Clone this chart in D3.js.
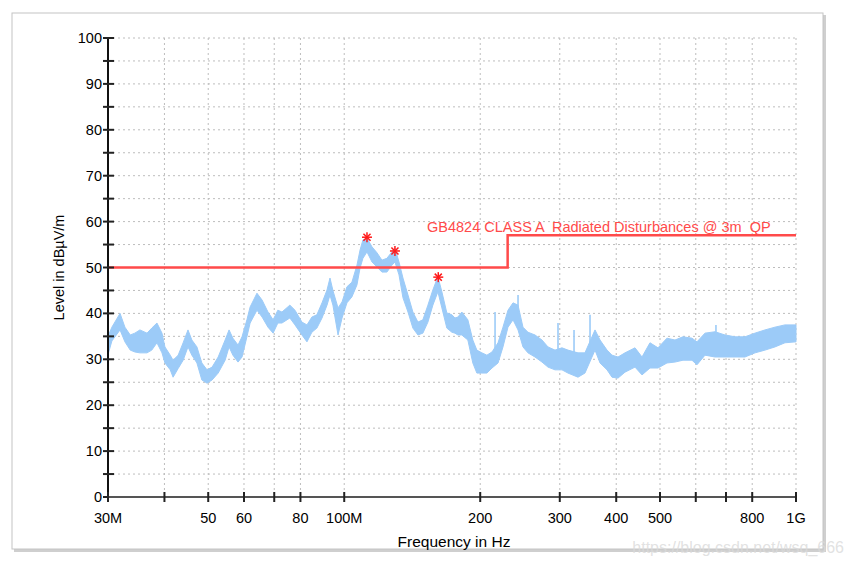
<!DOCTYPE html>
<html><head><meta charset="utf-8">
<script src="https://cdn.jsdelivr.net/npm/d3@7"></script>
<style>body{margin:0;background:#fff;} text{font-family:"Liberation Sans",Arial,sans-serif;}</style>
</head><body>
<svg id="c" width="852" height="564"></svg>
<script>
// ---- data ----
const freqMHz = [30.0,30.6,31.9,32.7,33.6,34.4,35.3,36.6,37.5,38.5,39.5,40.1,41.2,41.8,42.9,44.0,45.1,46.0,47.2,48.4,49.7,51.0,52.6,54.5,55.6,56.7,58.2,59.4,60.9,61.9,64.1,65.8,67.8,69.6,71.3,72.8,75.8,77.8,80.6,82.7,84.8,87.0,89.3,91.6,93.0,94.4,96.9,98.9,101.4,104.0,106.7,108.4,110.0,112.3,115.2,118.2,121.2,124.3,127.5,129.5,132.2,134.9,138.4,141.9,145.6,149.3,153.2,157.1,161.2,164.5,168.7,173.1,175.8,178.5,182.1,187.8,192.6,196.6,201.7,206.9,212.4,219.0,224.6,230.4,236.4,242.5,248.7,255.1,264.4,274.0,282.5,292.8,303.4,312.8,329.2,341.1,359.0,368.3,381.7,391.5,403.7,418.3,440.2,456.2,475.1,494.9,518.1,539.7,562.1,588.5,603.7,628.8,661.7,696.3,732.7,771.1,811.4,853.8,898.4,945.4,1000];
const levelHigh = [35.0,37.0,40.0,37.0,35.3,35.7,36.4,35.7,36.8,37.9,35.7,32.7,30.9,29.8,30.9,33.6,36.4,34.2,32.7,29.2,27.7,28.3,30.5,34.2,36.4,34.6,33.1,34.9,38.6,41.4,44.4,42.9,40.3,38.6,40.7,40.3,41.8,40.7,38.1,37.5,39.2,39.7,42.3,45.1,47.7,45.0,41.2,42.5,45.8,46.8,50.5,53.8,56.0,56.4,54.5,53.2,51.6,52.0,53.4,54.2,51.2,47.7,44.0,40.3,38.1,38.6,41.8,45.1,48.0,44.7,40.1,39.7,39.0,39.2,40.3,38.6,34.2,32.0,31.4,30.9,31.6,33.6,37.0,40.7,42.3,41.8,37.0,35.9,35.3,34.2,32.7,32.0,32.5,32.0,31.4,31.4,36.4,34.2,32.0,30.9,30.5,31.4,32.5,30.5,33.6,32.5,34.6,34.2,34.9,34.6,33.8,35.7,36.0,35.3,34.9,34.9,35.7,36.4,37.0,37.5,37.5];
const levelLow = [31.0,34.0,36.4,33.8,32.0,31.6,31.4,31.4,32.0,33.6,31.4,29.2,27.7,26.1,28.0,29.8,32.7,30.9,29.2,25.5,24.8,25.5,27.0,29.8,32.7,30.9,29.4,30.5,34.9,37.9,40.7,39.2,37.0,35.7,37.9,37.9,39.0,37.5,35.3,33.8,35.9,36.8,39.0,41.8,44.0,41.8,35.3,39.0,42.3,43.6,46.2,49.9,52.0,53.4,51.2,50.1,49.0,49.0,50.5,51.2,48.4,43.4,40.3,36.8,35.3,35.7,38.1,41.8,44.7,41.2,36.8,35.9,35.7,35.3,35.3,34.2,29.2,27.0,27.0,27.0,28.1,29.2,32.7,37.0,38.6,36.4,32.7,31.4,30.5,29.4,28.3,27.7,27.7,27.0,26.1,27.0,32.0,29.2,27.7,26.1,25.9,27.2,28.3,26.6,28.1,28.1,29.2,29.4,29.8,29.8,28.8,30.9,30.5,30.5,30.5,30.5,31.4,32.0,32.7,33.6,33.8];
// narrow spikes: frequency, top level, base level
const spikeFreq = [215.7,242.5,297.3,322.6,350.0,665.0];
const spikeTop  = [40.3,44.0,37.9,36.4,39.7,37.5];
const spikeBase = [31.0,40.0,31.5,31.5,32.0,34.0];
// limit line
const limitFreq  = [30,230,230,1000];
const limitLevel = [50,50,57,57];
const limitLabel = "GB4824 CLASS A  Radiated Disturbances @ 3m  QP";
// peak markers
const markerFreq  = [112.3,129.5,161.5];
const markerLevel = [56.6,53.6,47.9];
// ticks
const xTickVals = [30,40,50,60,70,80,100,200,300,400,500,600,700,800,1000];
const xTickText = ["30M","","50","60","","80","100M","200","300","400","500","","","800","1G"];
const yTickVals = [0,5,10,15,20,25,30,35,40,45,50,55,60,65,70,75,80,85,90,95,100];
const yLabelVals = [0,10,20,30,40,50,60,70,80,90,100];

// ---- chart ----
const svg = d3.select("#c");
const L=108, R=796, T=38, B=497;
const x = d3.scaleLog().domain([30,1000]).range([L,R]);
const y = d3.scaleLinear().domain([0,100]).range([B,T]);

// outer frame with shadow
svg.append("rect").attr("x",14).attr("y",15).attr("width",812).attr("height",537).attr("fill","#cfcfcf");
svg.append("rect").attr("x",12).attr("y",13).attr("width",811).attr("height",536).attr("fill","#fff").attr("stroke","#c4c4c4").attr("stroke-width",1);

// grid
const g = svg.append("g");
g.selectAll(".hg").data(yTickVals.filter(v=>v>0)).join("line")
  .attr("x1",L).attr("x2",R).attr("y1",d=>y(d)).attr("y2",d=>y(d))
  .attr("stroke","#bdbdbd").attr("stroke-width",1).attr("stroke-dasharray","2,3");
g.selectAll(".vg").data(xTickVals.filter(v=>v>30)).join("line")
  .attr("x1",d=>x(d)).attr("x2",d=>x(d)).attr("y1",T).attr("y2",B)
  .attr("stroke","#bdbdbd").attr("stroke-width",1).attr("stroke-dasharray","2,3");

// trace band
const data = freqMHz.map((f,i)=>({f,hi:levelHigh[i],lo:levelLow[i]}));
const area = d3.area().x(d=>x(d.f)).y0(d=>y(d.lo)).y1(d=>y(d.hi));
svg.append("path").datum(data).attr("d",area).attr("fill","#9ccbf8").attr("stroke","#9ccbf8").attr("stroke-width",1);
svg.selectAll(".sp").data(spikeFreq).join("line")
  .attr("x1",d=>x(d)).attr("x2",d=>x(d))
  .attr("y1",(d,i)=>y(spikeTop[i])).attr("y2",(d,i)=>y(spikeBase[i]))
  .attr("stroke","#9ccbf8").attr("stroke-width",1.6);

// limit line
const lim = limitFreq.map((f,i)=>[f,limitLevel[i]]);
svg.append("path").datum(lim).attr("d",d3.line().x(d=>x(d[0])).y(d=>y(d[1])))
  .attr("fill","none").attr("stroke","#ff4a4a").attr("stroke-width",2.5);
svg.append("text").attr("x",x(152.5)).attr("y",y(57.8)).attr("fill","#ff4a4a")
  .attr("font-size",14.5).style("white-space","pre").attr("xml:space","preserve").text(limitLabel);

// markers
const mk = svg.append("g");
markerFreq.forEach((f,i)=>{
  const cx=x(f), cy=y(markerLevel[i]);
  [0,45,90,135].forEach(a=>{
    const r=a*Math.PI/180, s=5;
    mk.append("line").attr("x1",cx-s*Math.cos(r)).attr("y1",cy-s*Math.sin(r))
      .attr("x2",cx+s*Math.cos(r)).attr("y2",cy+s*Math.sin(r))
      .attr("stroke","#ff1a1a").attr("stroke-width",1.5);
  });
});

// y axis
const ya = svg.append("g");
ya.append("line").attr("x1",L).attr("x2",L).attr("y1",T).attr("y2",B).attr("stroke","#111").attr("stroke-width",2);
ya.selectAll(".yt").data(yTickVals).join("line")
  .attr("x1",L-5).attr("x2",L+6).attr("y1",d=>y(d)).attr("y2",d=>y(d)).attr("stroke","#222").attr("stroke-width",2);
ya.selectAll(".yl").data(yLabelVals).join("text")
  .attr("x",L-6).attr("y",d=>y(d)+5).attr("text-anchor","end").attr("font-size",14.5).attr("fill","#000").text(d=>d);

// x axis
const xa = svg.append("g");
xa.append("line").attr("x1",L).attr("x2",R).attr("y1",B).attr("y2",B).attr("stroke","#555").attr("stroke-width",2);
xa.selectAll(".xt").data(xTickVals).join("line")
  .attr("x1",d=>x(d)).attr("x2",d=>x(d)).attr("y1",B-5).attr("y2",B+5).attr("stroke","#222").attr("stroke-width",2);
xa.selectAll(".xl").data(xTickVals).join("text")
  .attr("x",d=>x(d)).attr("y",B+26).attr("text-anchor","middle").attr("font-size",14.5).attr("fill","#000")
  .text((d,i)=>xTickText[i]);

// axis titles
svg.append("text").attr("transform",`translate(64,${(T+B)/2}) rotate(-90)`).attr("text-anchor","middle")
  .attr("font-size",14.5).attr("fill","#000").text("Level in dBµV/m");
svg.append("text").attr("x",454).attr("y",547).attr("text-anchor","middle").attr("font-size",15.5).attr("fill","#000").text("Frequency in Hz");

// watermark
svg.append("text").attr("x",844).attr("y",553).attr("text-anchor","end").attr("font-size",16)
  .attr("fill","#dadada").attr("fill-opacity",0.8).text("https://blog.csdn.net/wsq_666");
</script>
</body></html>
